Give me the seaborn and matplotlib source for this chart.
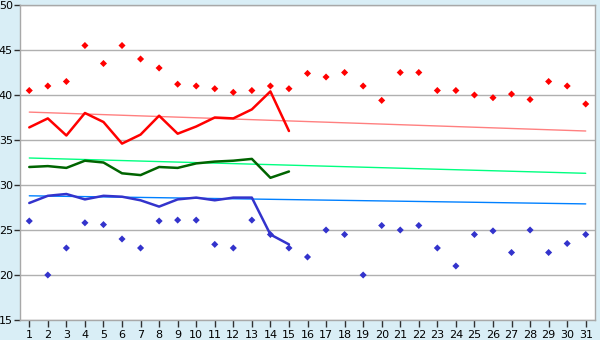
import numpy as np
import pandas as pd
import matplotlib
matplotlib.use("Agg")
import matplotlib.pyplot as plt
import seaborn as sns

# Dati
giorni = list(range(1, 32))
giorni_linea = list(range(1, 16))

max_punti = [40.5, 41.0, 41.5, 45.5, 43.5, 45.5, 44.0, 43.0, 41.2, 41.0,
             40.7, 40.3, 40.5, 41.0, 40.7, 42.4, 42.0, 42.5, 41.0, 39.4,
             42.5, 42.5, 40.5, 40.5, 40.0, 39.7, 40.1, 39.5, 41.5, 41.0, 39.0]
min_punti = [26.0, 20.0, 23.0, 25.8, 25.6, 24.0, 23.0, 26.0, 26.1, 26.1,
             23.4, 23.0, 26.1, 24.5, 23.0, 22.0, 25.0, 24.5, 20.0, 25.5,
             25.0, 25.5, 23.0, 21.0, 24.5, 24.9, 22.5, 25.0, 22.5, 23.5, 24.5]

linea_rossa = [36.4, 37.4, 35.5, 38.0, 37.0, 34.6, 35.6, 37.7, 35.7, 36.5,
               37.5, 37.4, 38.4, 40.4, 36.0]
linea_verde = [32.0, 32.1, 31.9, 32.7, 32.5, 31.3, 31.1, 32.0, 31.9, 32.4,
               32.6, 32.7, 32.9, 30.8, 31.5]
linea_blu = [28.0, 28.8, 29.0, 28.4, 28.8, 28.7, 28.3, 27.6, 28.4, 28.6,
             28.3, 28.6, 28.6, 24.5, 23.4]

# Linee di tendenza (inizio e fine)
giorni_trend = [1, 31]
trend_rosso = [38.1, 36.0]
trend_verde = [33.0, 31.3]
trend_blu = [28.8, 27.9]

df_punti = pd.DataFrame({'giorno': giorni, 'max': max_punti, 'min': min_punti})
df_linee = pd.DataFrame({'giorno': giorni_linea, 'rosso': linea_rossa,
                         'verde': linea_verde, 'blu': linea_blu})
df_trend = pd.DataFrame({'giorno': giorni_trend, 'rosso': trend_rosso,
                         'verde': trend_verde, 'blu': trend_blu})

sns.set_style("ticks")
plt.rcParams['font.family'] = ['DejaVu Sans']
plt.rcParams['xtick.bottom'] = True
plt.rcParams['ytick.left'] = True
plt.rcParams['xtick.major.size'] = 5
plt.rcParams['ytick.major.size'] = 4

fig = plt.figure(figsize=(6, 3.4), dpi=100)
fig.patch.set_facecolor('#d9eef6')
ax = fig.add_axes([20 / 600, 1 - 320 / 340, 575 / 600, 315 / 340])
ax.set_facecolor('white')

# linee di tendenza
sns.lineplot(data=df_trend, x='giorno', y='rosso', color='#ff8080', lw=1, ax=ax)
sns.lineplot(data=df_trend, x='giorno', y='verde', color='#00ff80', lw=1, ax=ax)
sns.lineplot(data=df_trend, x='giorno', y='blu', color='#0080ff', lw=1, ax=ax)

# linee principali
sns.lineplot(data=df_linee, x='giorno', y='rosso', color='#ff0000', lw=1.8, ax=ax)
sns.lineplot(data=df_linee, x='giorno', y='verde', color='#006400', lw=1.8, ax=ax)
sns.lineplot(data=df_linee, x='giorno', y='blu', color='#3333cc', lw=1.8, ax=ax)

# punti
sns.scatterplot(data=df_punti, x='giorno', y='max', color='#ff0000', marker='D',
                s=13, edgecolor='none', ax=ax)
sns.scatterplot(data=df_punti, x='giorno', y='min', color='#3333cc', marker='D',
                s=13, edgecolor='none', ax=ax)

ax.set_xlim(0.5, 31.5)
ax.set_ylim(15, 50)
ax.set_xticks(giorni)
ax.set_yticks(range(15, 51, 5))
ax.yaxis.grid(True, color='#b0b0b0', lw=1)
ax.set_axisbelow(True)
ax.set_xlabel('')
ax.set_ylabel('')
for s in ax.spines.values():
    s.set_visible(True)
    s.set_color('#a8a8a8')
    s.set_linewidth(1)
ax.tick_params(axis='both', labelsize=8, labelcolor='black', color='#303030',
               length=5, width=1, direction='out', bottom=True, left=True)
ax.tick_params(axis='x', pad=2)
ax.tick_params(axis='y', pad=1, length=4)

fig.savefig('out.png', dpi=100, facecolor=fig.get_facecolor())
